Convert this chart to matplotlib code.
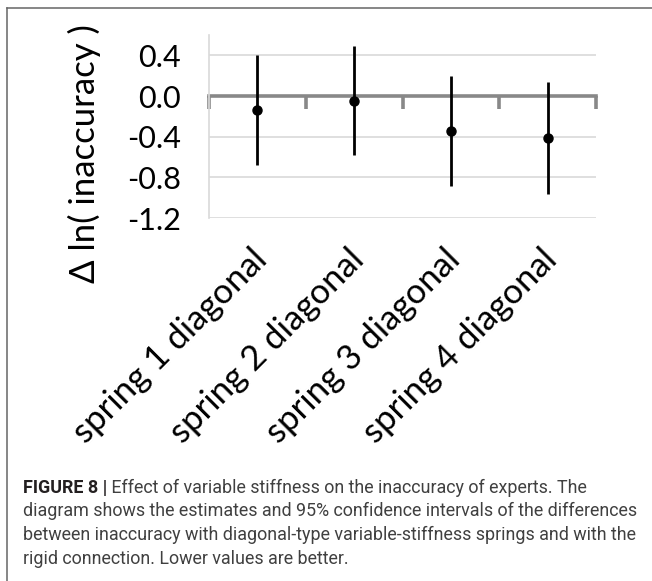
import numpy as np
import matplotlib
matplotlib.use("Agg")
import matplotlib.pyplot as plt
import matplotlib.transforms as mtransforms
from matplotlib.lines import Line2D

categories = ["spring 1 diagonal", "spring 2 diagonal", "spring 3 diagonal", "spring 4 diagonal"]
estimate = [-0.14, -0.05, -0.34, -0.41]
ci_low = [-0.68, -0.58, -0.89, -0.96]
ci_high = [0.40, 0.49, 0.20, 0.14]
y_ticks = [0.4, 0.0, -0.4, -0.8, -1.2]
y_label = "\u0394 ln( inaccuracy )"
caption_head = "FIGURE 8 |"
caption_lines = [
    " Effect of variable stiffness on the inaccuracy of experts. The",
    "diagram shows the estimates and 95% confidence intervals of the differences",
    "between inaccuracy with diagonal-type variable-stiffness springs and with the",
    "rigid connection. Lower values are better.",
]

W, H, DPI = 652, 581, 100
fig = plt.figure(figsize=(W / DPI, H / DPI), dpi=DPI)
plt.rcParams["font.family"] = ["Lato", "DejaVu Sans"]

# axes box in pixels
left, right, top, bottom = 209, 596, 35, 218
ax = fig.add_axes([left / W, 1 - bottom / H, (right - left) / W, (bottom - top) / H])

grid_c = "#d9d9d9"
axis_c = "#888888"
n = len(categories)
x = np.arange(n) + 0.5
est = np.array(estimate)
yerr = np.vstack([est - np.array(ci_low), np.array(ci_high) - est])

ax.set_xlim(0, n)
ax.set_ylim(-1.2, 0.6)
for t in y_ticks:
    if t != 0:
        ax.axhline(t, color=grid_c, lw=1.2, zorder=0)

for s in ["top", "right", "bottom"]:
    ax.spines[s].set_visible(False)
ax.spines["left"].set_color(grid_c)
ax.spines["left"].set_linewidth(1.2)

ax.set_yticks(y_ticks)
ax.set_yticklabels([f"{t:.1f}" for t in y_ticks])
ax.tick_params(axis="y", length=0, pad=20, labelsize=22)

ax.set_xticks(x)
ax.set_xticklabels(categories, rotation=45, ha="right", rotation_mode="anchor", fontsize=25)
ax.tick_params(axis="x", length=0, pad=18)
shift = mtransforms.ScaledTranslation(-7 / DPI, 0, fig.dpi_scale_trans)
for lab in ax.get_xticklabels():
    lab.set_transform(lab.get_transform() + shift)

# zero line with category boundary ticks
zero_frac = (0 - (-1.2)) / 1.8
sec = ax.secondary_xaxis(zero_frac)
sec.set_alignment("bottom")
sec.set_xticks(np.arange(n + 1))
sec.tick_params(axis="x", direction="out", length=9, width=2.6, color=axis_c,
                labelbottom=False, labeltop=False)
for s in sec.spines.values():
    s.set_visible(False)
sec.spines["bottom"].set_visible(True)
sec.spines["bottom"].set_color(axis_c)
sec.spines["bottom"].set_linewidth(2.6)

ax.errorbar(x, est, yerr=yerr, fmt="o", color="black", ms=6.5, elinewidth=2.0,
            capsize=0, zorder=5)

ax.set_ylabel(y_label, fontsize=25)
ax.yaxis.set_label_coords(-0.28, 0.35)

# frame lines
frame_c = "#666666"
fig.add_artist(Line2D([7 / W, 1], [1 - 8 / H, 1 - 8 / H], color=frame_c, lw=1.1))
fig.add_artist(Line2D([7 / W, 7 / W], [0, 1 - 8 / H], color=frame_c, lw=1.1))

# caption
cap_font = ["Roboto", "DejaVu Sans"]
renderer = fig.canvas.get_renderer()
probe = fig.text(0, 0, caption_lines[1], family=cap_font, fontsize=12)
wpx = probe.get_window_extent(renderer).width
probe.remove()
cap_size = 12 * (637 - 23) / wpx

x0 = 23 / W
baselines = [492.7, 516.5, 540.0, 563.5]
head = fig.text(x0, 1 - baselines[0] / H, caption_head, family=cap_font, fontsize=cap_size,
                weight="bold", color="#231f20", va="baseline")
hw = head.get_window_extent(renderer).width
fig.text(x0 + hw / W, 1 - baselines[0] / H, caption_lines[0], family=cap_font,
         fontsize=cap_size, color="#404040", va="baseline")
for line, b in zip(caption_lines[1:], baselines[1:]):
    fig.text(x0, 1 - b / H, line, family=cap_font, fontsize=cap_size, color="#404040",
             va="baseline")

fig.savefig("out.png", dpi=DPI)
